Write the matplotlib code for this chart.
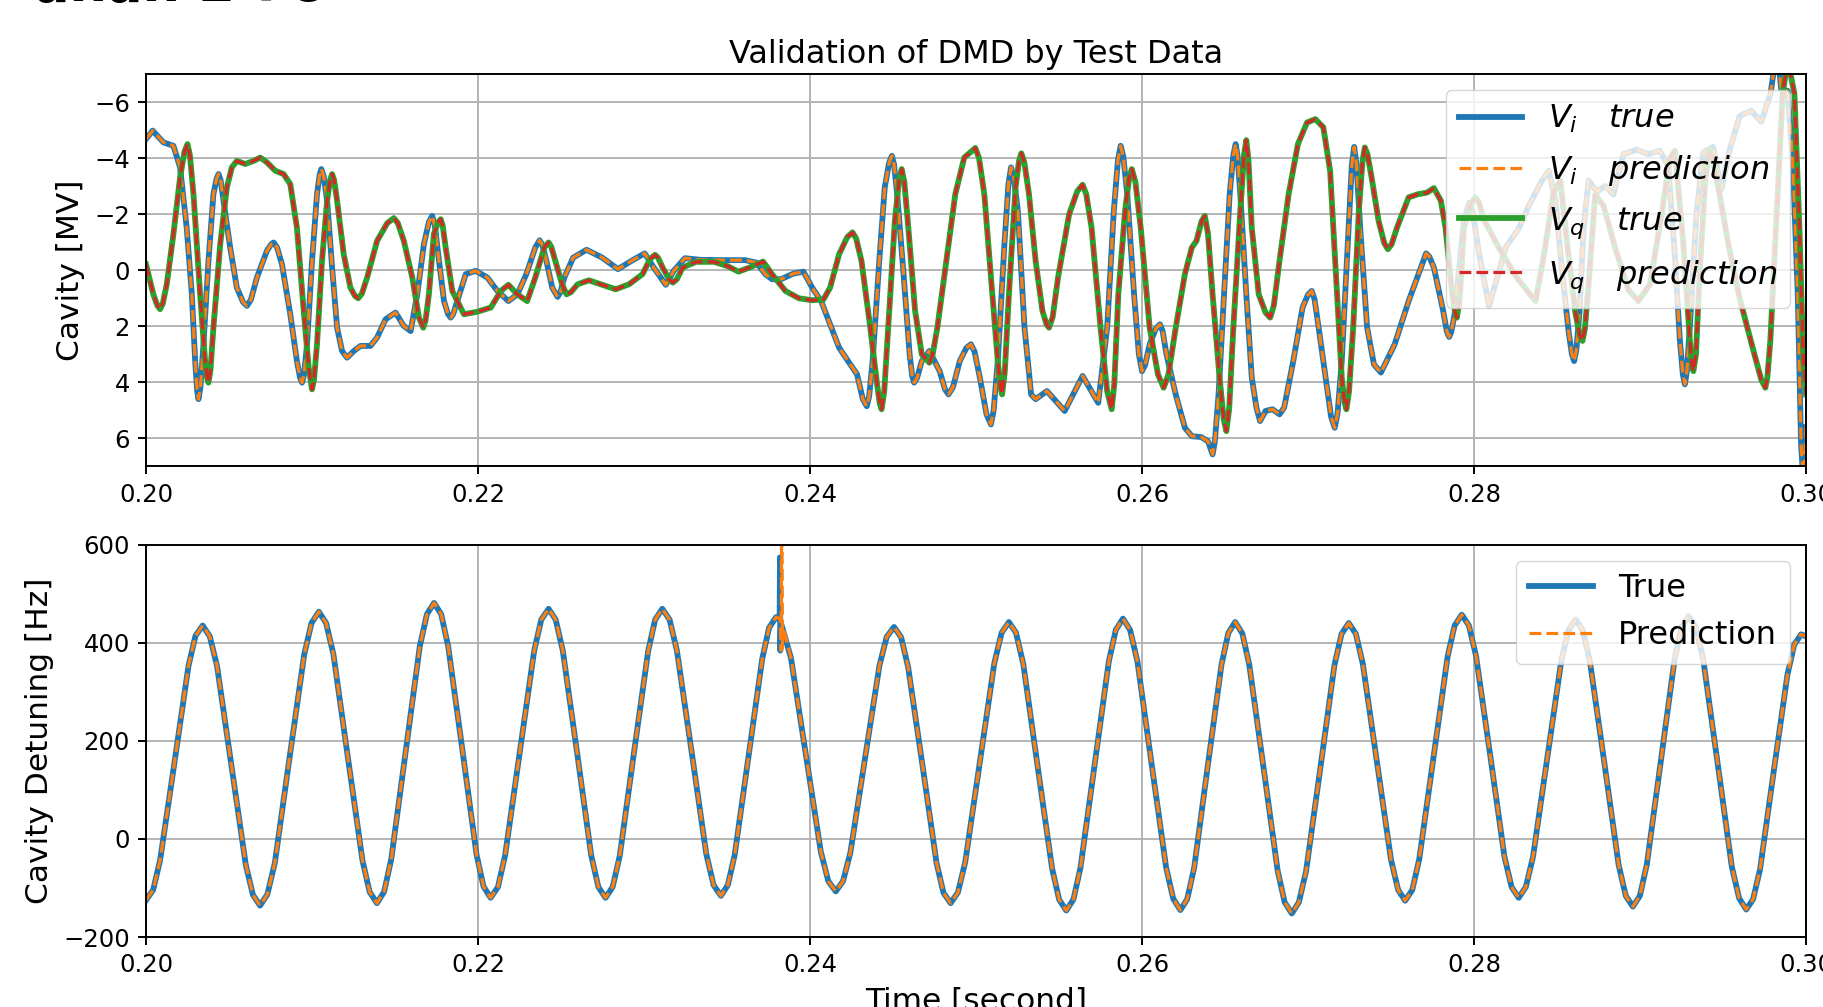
import numpy as np
import matplotlib
matplotlib.use("Agg")
import matplotlib.pyplot as plt

# cavity voltage, time given in ms after 0.2 s
vi_ms = [0.0, 0.40, 1.05, 1.65, 2.05, 2.45, 2.76, 2.96, 3.16, 3.46, 3.76, 4.06, 4.37, 4.67, 5.07, 5.47,
         6.08, 6.68, 7.28, 7.69, 8.19, 8.69, 9.09, 9.40, 9.70, 10.00, 10.30, 10.56, 10.91, 11.21, 11.51,
         11.81, 12.11, 12.52, 12.92, 13.52, 13.92, 14.43, 15.03, 15.53, 15.94, 16.34, 16.74, 17.24, 17.65,
         17.95, 18.35, 18.75, 19.26, 19.86, 20.56, 21.17, 21.83, 22.37, 22.91, 23.45, 23.71, 24.12, 24.47,
         24.79, 25.20, 25.73, 26.54, 27.48, 28.43, 29.23, 30.04, 30.58, 31.31, 31.79, 32.46, 33.41, 34.75,
         36.10, 36.77, 37.31, 37.71, 38.25, 39.00, 39.60, 40.13, 40.67, 41.21, 41.75, 42.29, 42.83, 43.42,
         43.77, 44.17, 44.50, 44.93, 45.25, 45.65, 46.00, 46.27, 46.73, 47.19, 47.81, 48.34, 49.02, 49.69,
         50.23, 50.63, 50.90, 51.31, 51.71, 52.11, 52.52, 52.92, 53.32, 53.59, 54.27, 55.34, 56.42, 57.36,
         57.90, 58.30, 58.71, 59.11, 59.52, 60.00, 60.46, 61.08, 61.47, 62.03, 62.58, 63.00, 63.56, 63.97,
         64.25, 64.61, 64.94, 65.28, 65.64, 65.92, 66.28, 66.61, 66.89, 67.11, 67.44, 67.86, 68.28, 68.56,
         69.11, 69.67, 70.22, 70.64, 71.06, 71.61, 72.03, 72.44, 72.78, 73.14, 73.56, 73.97, 74.39, 75.22,
         76.06, 77.11, 77.58, 78.14, 78.50, 78.83, 79.39, 79.70, 80.30, 80.90, 81.40, 81.90, 82.70, 83.30,
         84.00, 84.50, 84.90, 85.30, 85.70, 86.03, 86.35, 86.60, 86.90, 87.40, 87.90, 88.40, 89.00, 89.80,
         90.50, 91.20, 91.70, 92.10, 92.40, 92.70, 93.00, 93.40, 93.80, 94.40, 94.90, 95.40, 96.00, 96.70,
         97.30, 97.86, 98.10, 98.35, 98.50, 98.89, 99.20, 99.50, 99.70, 99.85, 100.00]
vi_mv = [-4.68, -4.98, -4.56, -4.44, -3.67, -1.52, 0.86, 3.24, 4.60, 2.64, -0.33, -2.71, -3.43, -2.48, -0.81, 0.62,
         1.27, 0.26, -0.69, -0.99, -0.21, 1.57, 3.24, 4.01, 2.64, -0.33, -2.71, -3.61, -2.48, -0.10, 2.05,
         2.88, 3.12, 2.88, 2.70, 2.70, 2.40, 1.75, 1.51, 1.99, 2.17, 0.86, -0.93, -1.94, -0.33,
         1.10, 1.69, 1.10, 0.14, 0.02, 0.26, 0.74, 1.10, 0.86, 0.14, -0.81, -1.07, -0.33, 0.62,
         0.95, 0.26, -0.45, -0.73, -0.45, -0.04, -0.33, -0.60, -0.10, 0.52, 0.02, -0.43, -0.37, -0.36,
         -0.36, -0.27, 0.14, 0.32, 0.32, 0.12, 0.05, 0.62, 1.10, 1.93, 2.76, 3.24, 3.71, 4.85,
         3.24, -0.33, -2.95, -4.08, -2.71, 0.26, 3.00, 4.01, 3.24, 2.88, 3.60, 4.43, 3.24, 2.64,
         3.83, 5.14, 5.50, 3.24, -0.93, -3.67, -2.12, 2.05, 4.43, 4.60, 4.31, 5.02, 3.77, 4.73,
         2.05, -2.12, -4.44, -2.71, 0.86, 3.60, 2.64, 1.93, 3.00, 4.43, 5.62, 5.92, 5.95, 6.10,
         6.57, 4.43, 0.86, -2.71, -4.50, -2.71, 0.86, 3.83, 4.90, 5.38, 5.02, 4.96, 5.14, 4.90,
         3.24, 1.33, 0.74, 2.05, 3.83, 5.62, 3.24, -1.52, -4.40, -1.52, 2.05, 3.36, 3.65, 2.64,
         1.10, -0.60, -0.10, 1.45, 2.38, 1.57, -1.76, -2.40, -0.60, 1.27, 0.26, -0.81, -1.50, -2.30,
         -3.10, -3.55, -2.50, 0.00, 2.20, 3.24, 1.50, -1.50, -3.20, -2.80, -3.00, -2.70, -4.14, -4.30,
         -4.14, -4.26, -3.70, -0.50, 2.50, 4.07, 2.00, -2.00, -4.20, -4.40, -2.90, -4.30, -5.50, -5.69,
         -5.30, -6.29, -7.30, -7.40, -6.46, -6.40, -3.90, 0.86, 6.20, 7.60, 5.60]
# extra readings around the sharp turns of V_i
vi_sh_ms = [3.08, 3.28, 4.25, 4.49, 5.84, 6.32, 7.53, 7.89, 9.28, 9.52, 10.46, 10.70, 17.04, 17.40,
            18.19, 18.51, 23.87, 24.95, 43.18, 43.56, 44.76, 45.06, 46.16, 46.45, 48.13, 48.61, 49.42,
            49.91, 51.06, 51.95, 52.27, 58.55, 58.87, 59.81, 60.18, 60.83, 61.24, 64.39, 65.50, 65.75,
            70.00, 70.39, 71.39, 71.78, 72.64, 72.92, 77.30, 78.36, 78.63, 79.94, 85.90, 86.16, 92.58,
            92.82]
vi_sh_mv = [4.30, 4.17, -3.27, -3.22, 1.13, 1.05, -0.92, -0.82, 3.84, 3.71, -3.41, -3.36, -1.72, -1.59,
            1.56, 1.56, -0.91, 0.80, 4.60, 4.50, -3.83, -3.78, 3.79, 3.84, 4.25, 4.17, 2.77,
            2.90, 5.00, -3.07, -3.33, -3.93, -4.06, 3.00, 3.39, 2.09, 2.17, 6.10, -4.11, -4.11,
            0.87, 1.03, 5.23, 5.10, -3.77, -3.77, -0.49, 2.18, 2.20, -2.00, 3.01, 2.86, 3.72,
            3.61]

vq_ms = [0.0, 0.44, 0.85, 1.25, 1.65, 2.05, 2.50, 2.86, 3.26, 3.56, 3.76, 4.06, 4.47, 4.87, 5.17, 5.47,
         5.98, 6.48, 6.88, 7.28, 7.79, 8.29, 8.69, 9.09, 9.50, 9.80, 10.00, 10.30, 10.60, 10.91, 11.21,
         11.51, 11.91, 12.31, 12.78, 13.32, 13.92, 14.93, 15.53, 16.04, 16.44, 16.70, 17.04, 17.34, 17.75,
         18.05, 18.45, 19.15, 19.96, 20.77, 21.37, 21.83, 22.37, 22.96, 23.45, 23.99, 24.25, 24.66, 25.06,
         25.33, 26.00, 26.68, 27.48, 28.29, 29.10, 29.91, 30.66, 31.12, 31.74, 32.33, 33.14, 34.21, 35.02,
         35.69, 36.37, 37.17, 37.71, 38.52, 39.33, 40.13, 40.81, 41.21, 41.75, 42.56, 43.10, 43.63, 44.04,
         44.31, 44.71, 45.11, 45.52, 45.92, 46.33, 46.73, 47.19, 47.67, 48.21, 48.75, 49.29, 49.96, 50.50,
         50.90, 51.31, 51.57, 51.98, 52.38, 52.73, 53.19, 53.59, 54.00, 54.40, 54.94, 55.61, 56.42, 56.96,
         57.50, 58.17, 58.57, 58.98, 59.38, 59.92, 60.46, 61.30, 62.03, 62.58, 63.00, 63.28, 63.78, 64.25,
         64.67, 65.08, 65.50, 65.92, 66.28, 66.61, 67.03, 67.72, 68.28, 68.83, 69.39, 69.94, 70.44, 70.92,
         71.33, 71.75, 72.03, 72.31, 72.72, 73.06, 73.42, 73.83, 74.25, 74.81, 75.36, 76.06, 76.61, 77.17,
         77.58, 78.00, 78.28, 78.69, 78.97, 79.39, 80.08, 80.60, 81.50, 82.50, 83.70, 84.20, 84.80, 85.20,
         85.60, 86.10, 86.53, 86.90, 87.30, 87.80, 88.50, 89.30, 89.90, 90.60, 91.30, 91.80, 92.10, 92.60,
         93.00, 93.21, 93.60, 94.17, 94.70, 95.30, 96.00, 96.80, 97.30, 97.55, 97.85, 98.19, 98.59, 98.90,
         99.30, 99.60, 99.84, 100.00]
vq_mv = [-0.21, 0.86, 1.39, 0.50, -1.29, -3.31, -4.50, -2.71, 0.86, 3.24, 4.01, 2.05, -0.93, -2.95, -3.67, -3.90,
         -3.79, -3.90, -4.02, -3.85, -3.55, -3.43, -3.07, -1.52, 1.45, 3.48, 4.25, 2.64, -0.33, -2.48, -3.43,
         -2.48, -0.57, 0.62, 1.00, 0.26, -1.05, -1.86, -1.05, 0.26, 1.69, 2.05, 0.86, -1.29, -1.82,
         -0.81, 0.74, 1.57, 1.48, 1.33, 0.74, 0.52, 0.86, 1.10, 0.26, -0.81, -0.99, -0.33, 0.50,
         0.86, 0.50, 0.36, 0.52, 0.68, 0.50, 0.14, -0.55, -0.10, 0.44, -0.10, -0.30, -0.30, -0.15,
         0.05, -0.10, -0.31, 0.14, 0.74, 1.00, 1.07, 1.04, 0.62, -0.57, -1.35, -0.33, 2.05, 4.07,
         4.96, 2.05, -1.76, -3.61, -1.52, 1.45, 3.00, 3.30, 2.05, -0.33, -2.71, -4.02, -4.36, -2.71,
         0.26, 3.24, 4.43, 0.86, -2.95, -4.17, -2.71, -0.33, 1.45, 2.05, 0.26, -2.00, -3.05, -1.52,
         2.05, 4.96, 0.86, -2.12, -3.61, -1.52, 2.05, 4.19, 2.05, 0.14, -0.81, -1.05, -1.94, 0.86,
         3.83, 5.74, 2.05, -2.12, -4.64, -1.52, 0.86, 1.69, -0.33, -2.71, -4.50, -5.27, -5.39, -5.10,
         -3.55, 0.86, 3.83, 4.96, 2.05, -2.12, -4.38, -3.31, -1.76, -0.75, -1.52, -2.60, -2.71, -2.77,
         -2.93, -2.48, -1.52, 0.86, 1.69, -1.52, -2.60, -1.80, -0.80, 0.20, 1.10, -0.50, -2.80, -3.20,
         -1.00, 1.50, 2.52, 0.50, -2.70, -2.30, -0.80, 0.70, 1.10, 0.50, -2.00, -4.00, -4.26, -1.00,
         2.50, 3.60, 0.00, -4.26, -3.00, -1.00, 1.00, 2.80, 3.90, 4.19, 2.50, -1.52, -6.29, -7.50,
         -6.29, -1.52, 3.24, 4.43]
# extra readings around the sharp turns of V_q
vq_sh_ms = [0.69, 1.01, 2.32, 2.64, 3.68, 3.88, 10.12, 11.09, 11.33, 12.59, 13.00, 14.53, 15.17, 16.84,
            17.59, 17.87, 24.41, 25.60, 30.36, 30.84, 31.50, 31.98, 42.24, 42.78, 44.20, 44.47, 45.36,
            45.68, 47.38, 50.18, 51.47, 51.73, 52.59, 52.91, 54.24, 54.62, 56.10, 56.64, 57.90, 58.33,
            59.22, 59.60, 60.96, 61.59, 63.58, 63.97, 64.92, 65.25, 66.14, 66.41, 67.44, 67.94, 72.20,
            72.47, 73.28, 73.58, 74.59, 75.03, 78.86, 79.14, 79.80, 80.29, 86.36, 86.68, 93.13, 93.37,
            93.94, 94.38, 97.67]
vq_sh_mv = [1.27, 1.19, -4.24, -4.11, 3.84, 3.58, 3.90, -3.22, -3.22, 0.92, 0.84, -1.68, -1.68, 1.79,
            -1.70, -1.60, -0.84, 0.78, -0.40, -0.45, 0.32, 0.32, -1.18, -1.13, 4.76, 4.32, -3.20,
            -3.15, 3.02, -4.00, 4.17, 3.64, -3.90, -3.85, 1.92, 1.66, -2.82, -2.71, 4.32, 4.06,
            -3.28, -3.15, 3.72, 3.72, -1.74, -1.32, 5.32, 4.93, -4.09, -3.95, 1.51, 1.25, 4.71,
            4.32, -3.88, -4.14, -0.97, -0.92, 1.51, 1.00, -2.36, -2.42, 2.30, 2.08, 3.36, 3.00,
            -3.30, -4.00, 3.82]

# cavity detuning, time in ms after 0.2 s
det_ms = [0.00, 0.43, 0.85, 1.71, 2.56, 2.98, 3.41, 3.84, 4.28, 5.14,
          6.01, 6.44, 6.87, 7.31, 7.76, 8.64, 9.53, 9.97, 10.41, 10.85,
          11.29, 12.16, 13.04, 13.47, 13.91, 14.34, 14.77, 15.63, 16.49, 16.92,
          17.35, 17.78, 18.20, 19.06, 19.91, 20.33, 20.76, 21.20, 21.63, 22.51,
          23.38, 23.81, 24.25, 24.68, 25.11, 25.97, 26.82, 27.25, 27.68, 28.11,
          28.54, 29.39, 30.25, 30.67, 31.10, 31.54, 31.98, 32.87, 33.75, 34.19,
          34.63, 35.05, 35.46, 36.29, 37.12, 37.53, 37.95, 38.85, 39.75, 40.65,
          41.10, 41.55, 41.99, 42.43, 43.31, 44.18, 44.62, 45.06, 45.49, 45.91,
          46.77, 47.62, 48.04, 48.47, 48.91, 49.35, 50.23, 51.10, 51.54, 51.98,
          52.41, 52.85, 53.71, 54.58, 55.01, 55.44, 55.87, 56.29, 57.15, 58.00,
          58.42, 58.85, 59.28, 59.72, 60.58, 61.45, 61.88, 62.31, 62.72, 63.14,
          63.96, 64.79, 65.20, 65.61, 66.04, 66.46, 67.32, 68.17, 68.59, 69.02,
          69.45, 69.88, 70.74, 71.59, 72.02, 72.45, 72.88, 73.30, 74.15, 75.00,
          75.43, 75.85, 76.28, 76.70, 77.56, 78.41, 78.83, 79.26, 79.69, 80.12,
          80.98, 81.83, 82.26, 82.69, 83.12, 83.55, 84.41, 85.26, 85.69, 86.12,
          86.55, 86.98, 87.85, 88.71, 89.14, 89.57, 89.99, 90.41, 91.25, 92.09,
          92.51, 92.93, 93.36, 93.80, 94.67, 95.53, 95.97, 96.40, 96.81, 97.23,
          98.05, 98.88, 99.29, 99.70, 100.00]
det_hz = [-125, -104, -43, 155, 353, 414, 435, 413, 352, 150,
          -53, -114, -136, -113, -49, 164, 376, 440, 463, 440,
          376, 166, -44, -108, -131, -108, -42, 175, 392, 458,
          481, 458, 393, 181, -32, -97, -120, -98, -34, 175,
          383, 447, 469, 447, 383, 175, -34, -98, -120, -98,
          -34, 175, 383, 447, 469, 447, 384, 177, -31, -94,
          -116, -94, -33, 167, 367, 430, 452, 369, 172, -26,
          -86, -107, -86, -28, 163, 353, 412, 432, 411, 350,
          151, -49, -110, -131, -109, -47, 156, 358, 420, 442,
          420, 356, 148, -60, -124, -146, -123, -59, 152, 362,
          426, 449, 426, 362, 152, -58, -122, -145, -123, -59,
          149, 356, 420, 442, 419, 355, 145, -65, -129, -152,
          -129, -66, 144, 354, 418, 440, 418, 357, 157, -43,
          -104, -126, -104, -41, 166, 372, 435, 457, 435, 373,
          169, -36, -98, -120, -98, -37, 164, 364, 425, 447,
          425, 362, 155, -53, -116, -138, -116, -52, 158, 368,
          432, 454, 431, 367, 155, -57, -121, -144, -123, -62,
          137, 335, 396, 417, 413]
# short glitch near 0.238 s
spike_true_ms = [38.10, 38.17, 38.19, 38.21, 38.25]
spike_true_hz = [450, 447, 574, 384, 440]
spike_pred_ms = [38.10, 38.22, 38.26, 38.30, 38.34, 38.40]
spike_pred_hz = [450, 445, 384, 720, 390, 430]


def merged(ms, vals, extra_ms, extra_vals):
    # put the extra readings in time order with the main ones, return seconds
    t = np.concatenate([ms, extra_ms])
    v = np.concatenate([vals, extra_vals])
    order = np.argsort(t, kind="stable")
    return 0.2 + t[order] / 1000.0, v[order]


plt.rcParams.update({
    "font.size": 17.5,
    "axes.linewidth": 1.4,
    "xtick.major.size": 5.8,
    "ytick.major.size": 5.8,
    "xtick.major.width": 1.4,
    "ytick.major.width": 1.4,
    "xtick.major.pad": 5.8,
    "ytick.major.pad": 5.8,
    "grid.linewidth": 1.3,
    "legend.fontsize": 23,
    "axes.titlesize": 23,
    "axes.labelsize": 22.5,
    "axes.titlepad": 8,
    "axes.labelpad": 6.6,
})

lw_true = 4.2
lw_pred = 2.3

fig, (ax1, ax2) = plt.subplots(2, 1, figsize=(18.23, 10.07), dpi=100)
fig.subplots_adjust(left=0.0801, right=0.9907, top=0.9265, bottom=0.0695, hspace=0.199)

# cut off heading above the figure
fig.text(34 / 1823, 1 - 1 / 1007, "anan 2 7o", fontsize=38, fontweight="bold", va="baseline")

# top: cavity voltage I/Q
t_vi, v_vi = merged(vi_ms, vi_mv, vi_sh_ms, vi_sh_mv)
t_vq, v_vq = merged(vq_ms, vq_mv, vq_sh_ms, vq_sh_mv)
ax1.plot(t_vi, v_vi, color="tab:blue", lw=lw_true, label=r"$V_i \quad true$")
ax1.plot(t_vi, v_vi, "--", color="tab:orange", lw=lw_pred, label=r"$V_i \quad prediction$")
ax1.plot(t_vq, v_vq, color="tab:green", lw=lw_true, label=r"$V_q \quad true$")
ax1.plot(t_vq, v_vq, "--", color="tab:red", lw=lw_pred, label=r"$V_q \quad prediction$")
ax1.set_xlim(0.2, 0.3)
ax1.set_ylim(7, -7)
ax1.set_ylabel("Cavity [MV]")
ax1.set_title("Validation of DMD by Test Data")
ax1.grid(True)
ax1.legend(loc="upper right", labelspacing=0.55)

# bottom: detuning
t_true, v_true = merged(det_ms, det_hz, spike_true_ms, spike_true_hz)
t_pred, v_pred = merged(det_ms, det_hz, spike_pred_ms, spike_pred_hz)
ax2.plot(t_true, v_true, color="tab:blue", lw=lw_true, label="True")
ax2.plot(t_pred, v_pred, "--", color="tab:orange", lw=lw_pred, label="Prediction")
ax2.set_xlim(0.2, 0.3)
ax2.set_ylim(-200, 600)
ax2.set_yticks([-200, 0, 200, 400, 600])
ax2.set_xlabel("Time [second]")
ax2.set_ylabel("Cavity Detuning [Hz]")
ax2.grid(True)
ax2.legend(loc="upper right")

plt.savefig("out.png", dpi=100)
